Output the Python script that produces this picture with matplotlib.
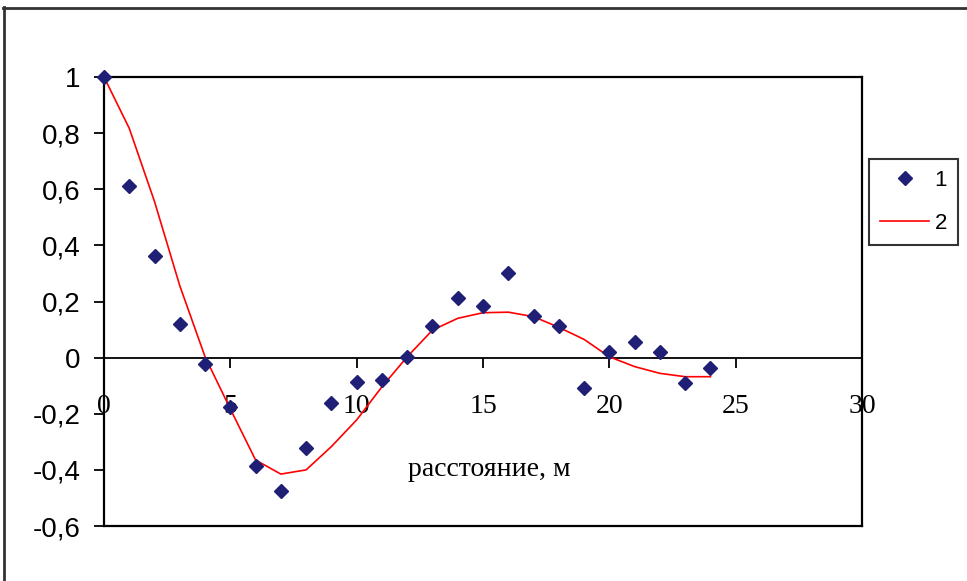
import matplotlib
matplotlib.use("Agg")
import matplotlib.pyplot as plt
from matplotlib.lines import Line2D

# distances, m
dist = [0, 1, 2, 3, 4, 5, 6, 7, 8, 9, 10, 11, 12, 13, 14, 15, 16, 17, 18, 19, 20, 21, 22, 23, 24]

# series 1: experimental points
exp_vals = [1.0, 0.611, 0.362, 0.119, -0.023, -0.175, -0.386, -0.474, -0.321, -0.16,
            -0.088, -0.080, 0.004, 0.113, 0.212, 0.184, 0.303, 0.149, 0.113, -0.107,
            0.021, 0.057, 0.021, -0.089, -0.036]

# series 2: model curve
model_vals = [1.0, 0.817, 0.556, 0.256, 0.003, -0.183, -0.365, -0.415, -0.40, -0.317,
              -0.222, -0.104, 0.003, 0.098, 0.14, 0.16, 0.162, 0.146, 0.108, 0.065,
              0.003, -0.032, -0.056, -0.068, -0.068]

x_ticks = [0, 5, 10, 15, 20, 25, 30]
y_ticks = [-0.6, -0.4, -0.2, 0, 0.2, 0.4, 0.6, 0.8, 1]
y_tick_labels = ["-0,6", "-0,4", "-0,2", "0", "0,2", "0,4", "0,6", "0,8", "1"]
series_names = ["1", "2"]
x_title = "расстояние, м"

W, H = 967, 581
fig = plt.figure(figsize=(W / 100, H / 100), dpi=100)
ax = fig.add_axes([104 / W, 1 - 526 / H, 758 / W, 449 / H])

# outer chart border (only top and left visible)
fig.add_artist(Line2D([3 / W, 1.0], [1 - 7.5 / H, 1 - 7.5 / H], transform=fig.transFigure,
                      color="#333333", lw=2))
fig.add_artist(Line2D([4 / W, 4 / W], [0, 1 - 7 / H], transform=fig.transFigure,
                      color="#333333", lw=2))

ax.plot(dist, model_vals, color="#ff0000", lw=1.2, label=series_names[1], zorder=3)
ax.plot(dist, exp_vals, linestyle="none", marker="D", markersize=7.5,
        color="#1f1f75", label=series_names[0], zorder=4, clip_on=False)

ax.set_xlim(0, 30)
ax.set_ylim(-0.6, 1)

for s in ["left", "top", "right"]:
    ax.spines[s].set_linewidth(1.6)
    ax.spines[s].set_color("black")
ax.spines["bottom"].set_position(("data", 0))
ax.spines["bottom"].set_linewidth(1.3)
# bottom edge of the plot frame
ax.plot([0, 1], [0, 0], transform=ax.transAxes, color="black", lw=1.6, clip_on=False)

ax.set_xticks(x_ticks)
ax.set_xticklabels([str(t) for t in x_ticks], fontfamily="Liberation Serif", fontsize=20)
ax.set_yticks(y_ticks)
ax.set_yticklabels(y_tick_labels, fontfamily="Liberation Sans", fontsize=20)
ax.tick_params(axis="x", direction="out", length=7, width=1.3, pad=19)
ax.tick_params(axis="y", direction="out", length=7, width=1.3, pad=10)

ax.text(0.508, 0.125, x_title, transform=ax.transAxes, ha="center", va="center",
        fontfamily="Liberation Serif", fontsize=20)

handles, labels = ax.get_legend_handles_labels()
leg = ax.legend(handles[::-1], labels[::-1], loc="center left",
                bbox_to_anchor=(869 / W, 1 - 202 / H), bbox_transform=fig.transFigure,
                prop={"family": "Liberation Sans", "size": 16}, frameon=True, fancybox=False,
                handlelength=2.2, handletextpad=0.25, labelspacing=1.0, borderpad=0.5,
                borderaxespad=0)
leg.get_frame().set_edgecolor("black")
leg.get_frame().set_linewidth(1.5)

fig.savefig("out.png", dpi=100)
